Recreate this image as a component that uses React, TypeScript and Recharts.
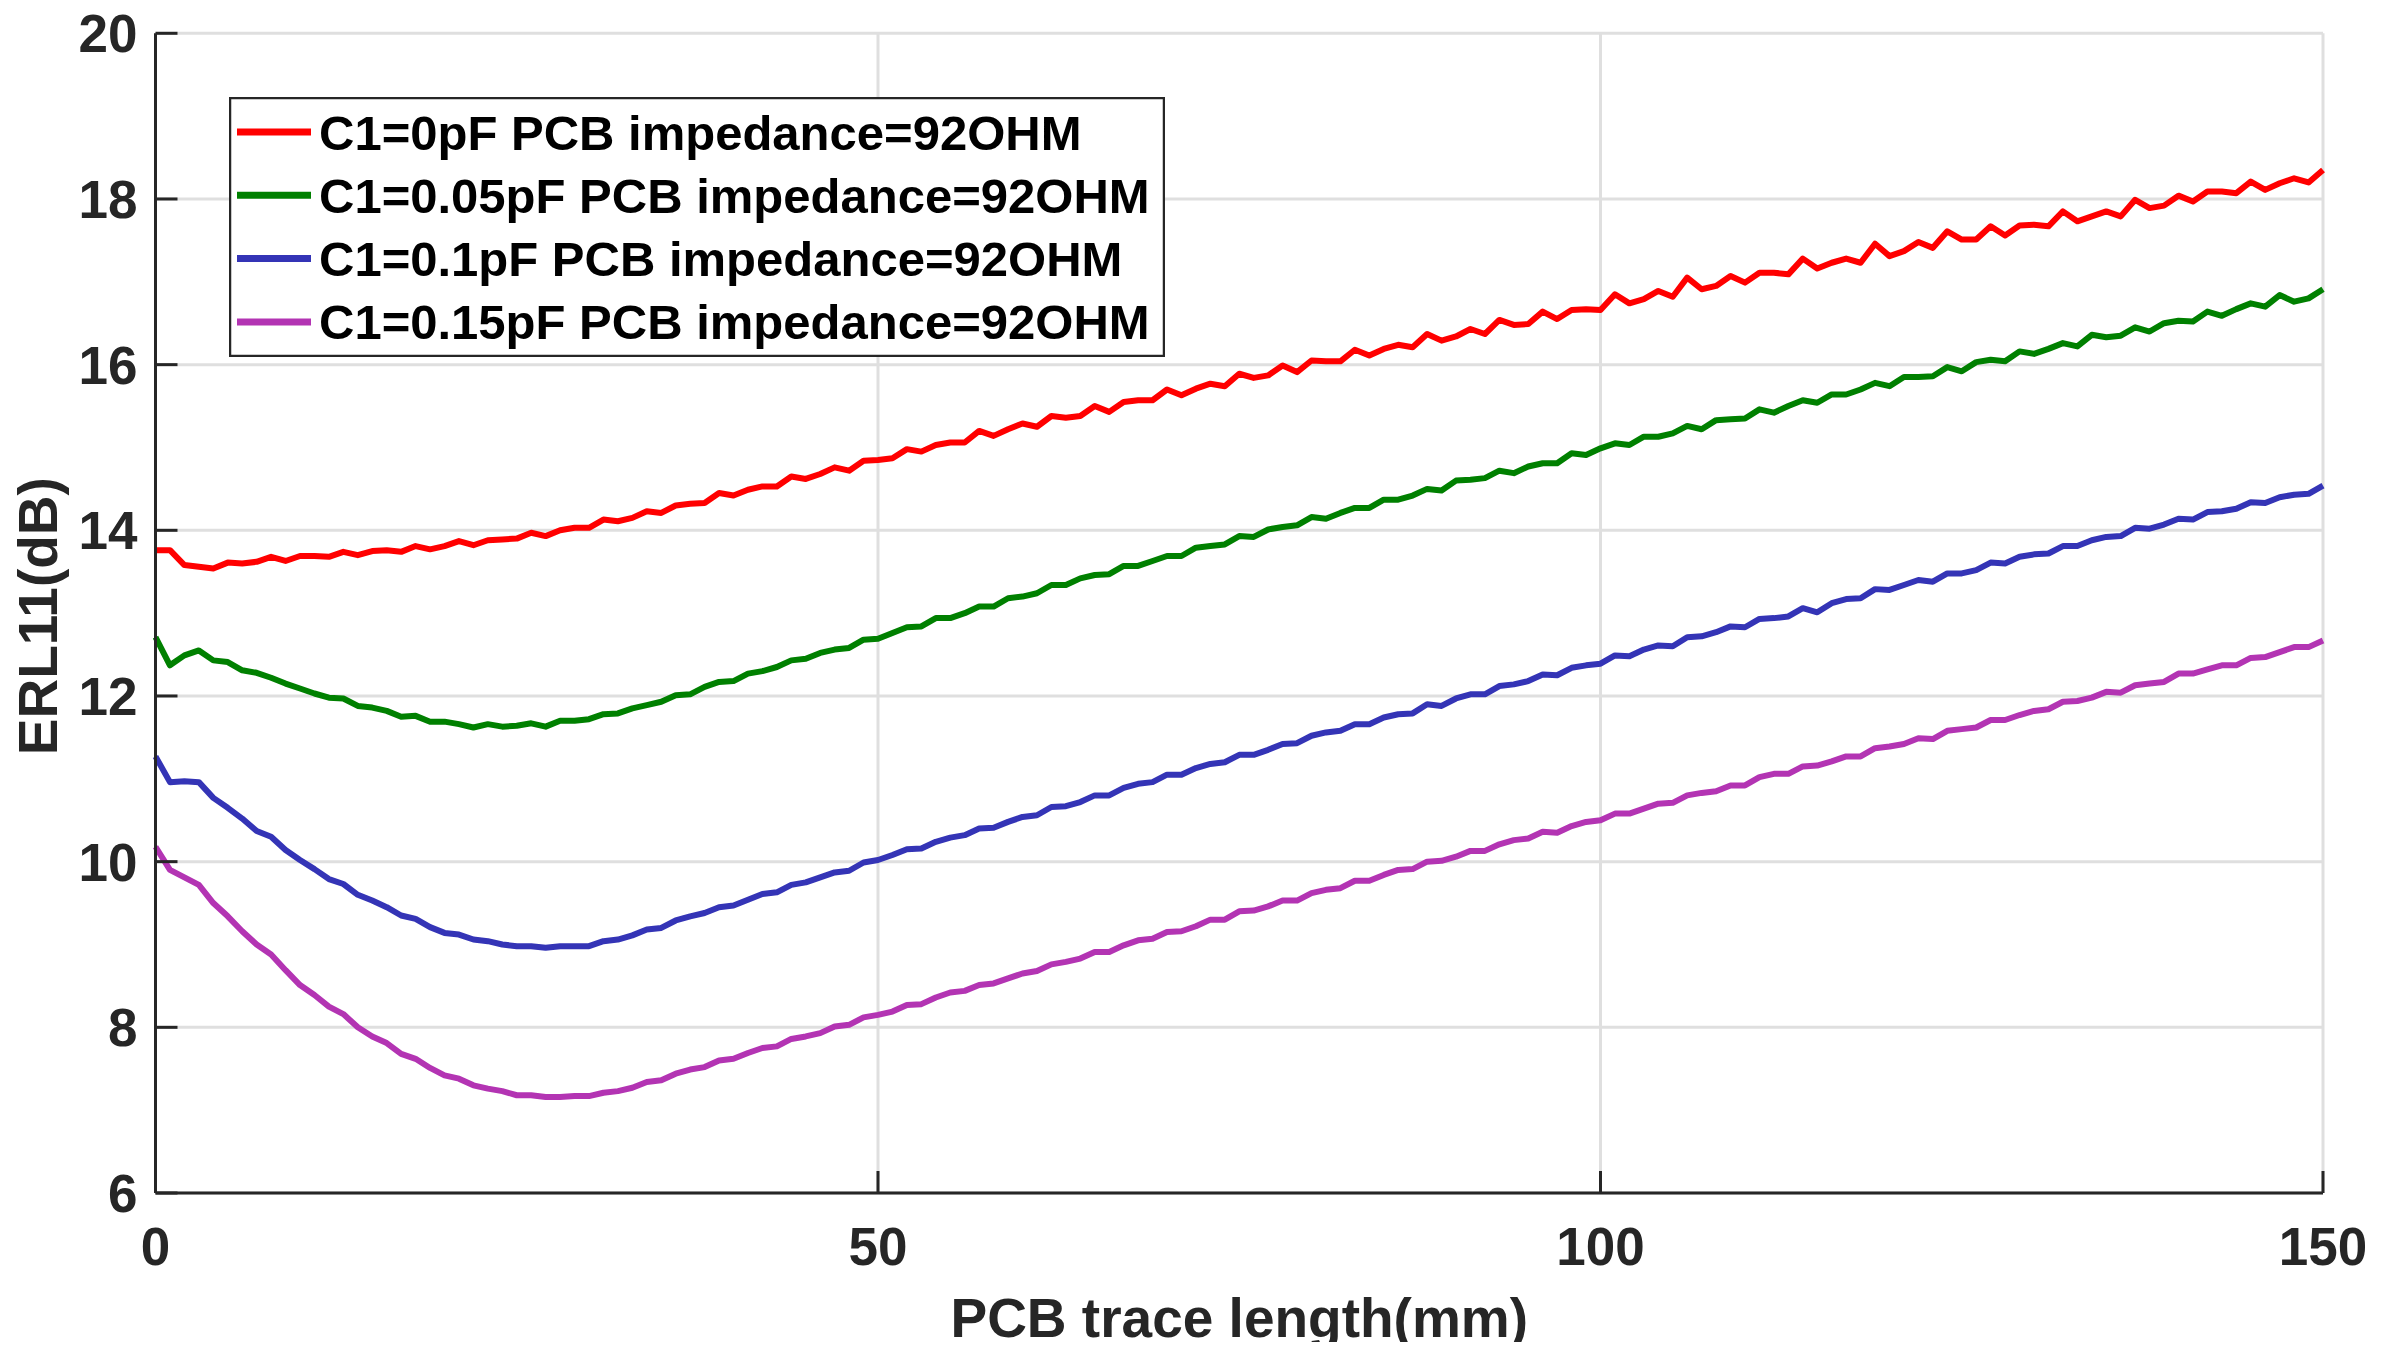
import React from 'react'
import { LineChart, Line, XAxis, YAxis, CartesianGrid, Legend } from 'recharts'

// PCB trace length in mm, sampled every 1 mm
const traceLength = Array.from({ length: 151 }, (_, i) => i)

// ERL11 (dB), one value per mm
const erlC0 = [
  13.76, 13.76, 13.58, 13.56, 13.54, 13.61, 13.6, 13.62, 13.68, 13.63, 13.69, 13.69, 13.68, 13.74, 13.7, 13.75, 13.76, 13.74, 13.81, 13.77,
  13.81, 13.87, 13.82, 13.88, 13.89, 13.9, 13.97, 13.93, 14.0, 14.03, 14.03, 14.13, 14.11, 14.15, 14.23, 14.21, 14.3, 14.32, 14.33, 14.45,
  14.42, 14.49, 14.53, 14.53, 14.65, 14.62, 14.68, 14.76, 14.72, 14.84, 14.85,
  14.87, 14.98, 14.95, 15.03, 15.06, 15.06, 15.2, 15.14, 15.22, 15.29, 15.25, 15.38, 15.36, 15.38, 15.5, 15.43, 15.55, 15.57, 15.57, 15.7,
  15.63, 15.71, 15.77, 15.74, 15.89, 15.84, 15.87, 15.99, 15.91, 16.05, 16.04, 16.04, 16.18, 16.11, 16.19, 16.24, 16.21, 16.37, 16.29, 16.34,
  16.43, 16.37, 16.54, 16.48, 16.49, 16.64, 16.55, 16.66, 16.67, 16.66,
  16.85, 16.74, 16.79, 16.89, 16.82, 17.05, 16.91, 16.95, 17.07, 16.99, 17.11, 17.11, 17.09, 17.28, 17.16, 17.23, 17.28, 17.23, 17.46, 17.31,
  17.37, 17.48, 17.41, 17.61, 17.51, 17.51, 17.67, 17.56, 17.68, 17.69, 17.67, 17.85, 17.73, 17.79, 17.85, 17.79, 17.99, 17.89, 17.92, 18.04,
  17.97, 18.09, 18.09, 18.07, 18.21, 18.11, 18.19, 18.25, 18.2, 18.35
]

const erlC005 = [
  12.71, 12.37, 12.49, 12.55, 12.43, 12.41, 12.31, 12.28, 12.22, 12.15, 12.09, 12.03, 11.98, 11.97, 11.88, 11.86, 11.82, 11.75, 11.76, 11.69,
  11.69, 11.66, 11.62, 11.66, 11.63, 11.64, 11.67, 11.63, 11.7, 11.7, 11.72, 11.78, 11.79, 11.85, 11.89, 11.93, 12.01, 12.02, 12.11, 12.17,
  12.18, 12.27, 12.3, 12.35, 12.43, 12.45, 12.52, 12.56, 12.58, 12.68, 12.69,
  12.76, 12.83, 12.84, 12.94, 12.94, 13.0, 13.08, 13.08, 13.18, 13.2, 13.24, 13.34, 13.34, 13.42, 13.46, 13.47, 13.57, 13.57, 13.63, 13.69,
  13.69, 13.79, 13.81, 13.83, 13.93, 13.92, 14.01, 14.04, 14.06, 14.16, 14.14, 14.21, 14.27, 14.27, 14.37, 14.37, 14.42, 14.5, 14.48, 14.6,
  14.61, 14.63, 14.72, 14.69, 14.77, 14.81, 14.81, 14.93, 14.91, 14.99,
  15.05, 15.03, 15.13, 15.13, 15.17, 15.26, 15.22, 15.33, 15.34, 15.35, 15.46, 15.42, 15.5, 15.57, 15.54, 15.64, 15.64, 15.7, 15.78, 15.74,
  15.85, 15.85, 15.86, 15.97, 15.92, 16.03, 16.06, 16.04, 16.16, 16.13, 16.19, 16.26, 16.22, 16.36, 16.33, 16.35, 16.45, 16.4, 16.5, 16.53,
  16.52, 16.64, 16.59, 16.67, 16.74, 16.7, 16.84, 16.76, 16.8, 16.91
]

const erlC01 = [
  11.27, 10.96, 10.97, 10.96, 10.77, 10.65, 10.52, 10.37, 10.3, 10.14, 10.02, 9.91, 9.79, 9.73, 9.6, 9.53, 9.45, 9.35, 9.31, 9.21,
  9.14, 9.12, 9.06, 9.04, 9.0, 8.98, 8.98, 8.96, 8.98, 8.98, 8.98, 9.04, 9.06, 9.11, 9.18, 9.2, 9.29, 9.34, 9.38, 9.45,
  9.47, 9.54, 9.61, 9.63, 9.72, 9.75, 9.81, 9.87, 9.89, 9.99, 10.02,
  10.08, 10.15, 10.16, 10.24, 10.29, 10.32, 10.4, 10.41, 10.48, 10.54, 10.56, 10.66, 10.67, 10.72, 10.8, 10.8, 10.89, 10.94, 10.96, 11.05,
  11.05, 11.13, 11.18, 11.2, 11.29, 11.29, 11.35, 11.42, 11.43, 11.52, 11.56, 11.58, 11.66, 11.66, 11.74, 11.78, 11.79, 11.9, 11.88, 11.97,
  12.02, 12.02, 12.12, 12.14, 12.18, 12.26, 12.25, 12.34, 12.37, 12.39,
  12.49, 12.48, 12.56, 12.61, 12.6, 12.71, 12.72, 12.77, 12.84, 12.83, 12.93, 12.94, 12.96, 13.06, 13.01, 13.12, 13.17, 13.18, 13.29, 13.28,
  13.34, 13.4, 13.38, 13.48, 13.48, 13.52, 13.61, 13.6, 13.68, 13.71, 13.72, 13.81, 13.81, 13.88, 13.92, 13.93, 14.03, 14.02, 14.07, 14.14,
  14.13, 14.22, 14.23, 14.26, 14.34, 14.33, 14.4, 14.43, 14.44, 14.54
]

const erlC015 = [
  10.18, 9.9, 9.81, 9.72, 9.5, 9.34, 9.16, 9.0, 8.88, 8.69, 8.51, 8.39, 8.25, 8.16, 8.0, 7.89, 7.81, 7.68, 7.62, 7.51,
  7.42, 7.38, 7.3, 7.26, 7.23, 7.18, 7.18, 7.16, 7.16, 7.17, 7.17, 7.21, 7.23, 7.27, 7.34, 7.36, 7.44, 7.49, 7.52, 7.6,
  7.62, 7.69, 7.75, 7.77, 7.86, 7.89, 7.93, 8.01, 8.03, 8.12, 8.15,
  8.19, 8.27, 8.28, 8.36, 8.42, 8.44, 8.51, 8.53, 8.59, 8.65, 8.68, 8.76, 8.79, 8.83, 8.91, 8.91, 8.99, 9.05, 9.07, 9.15,
  9.16, 9.22, 9.3, 9.3, 9.4, 9.41, 9.46, 9.53, 9.53, 9.62, 9.66, 9.68, 9.77, 9.77, 9.84, 9.9, 9.91, 10.0, 10.01, 10.06,
  10.13, 10.13, 10.21, 10.26, 10.28, 10.36, 10.35, 10.43, 10.48, 10.5,
  10.58, 10.58, 10.64, 10.7, 10.71, 10.8, 10.83, 10.85, 10.92, 10.92, 11.02, 11.06, 11.06, 11.15, 11.16, 11.21, 11.27, 11.27, 11.37, 11.39,
  11.42, 11.49, 11.48, 11.58, 11.6, 11.62, 11.71, 11.71, 11.77, 11.82, 11.84, 11.93, 11.94, 11.98, 12.05, 12.04, 12.13, 12.15, 12.17, 12.27,
  12.27, 12.32, 12.37, 12.37, 12.46, 12.47, 12.53, 12.59, 12.59, 12.67
]

const xTicks = [0, 50, 100, 150]
const yTicks = [6, 8, 10, 12, 14, 16, 18, 20]

const series = [
  { key: 'c0', name: 'C1=0pF PCB impedance=92OHM', color: '#ff0000', values: erlC0 },
  { key: 'c005', name: 'C1=0.05pF PCB impedance=92OHM', color: '#008000', values: erlC005 },
  { key: 'c01', name: 'C1=0.1pF PCB impedance=92OHM', color: '#3434b6', values: erlC01 },
  { key: 'c015', name: 'C1=0.15pF PCB impedance=92OHM', color: '#b334b3', values: erlC015 }
]

const data = traceLength.map((x, i) => {
  const row: Record<string, number> = { x }
  series.forEach(s => { row[s.key] = s.values[i] })
  return row
})

const FONT = '"Liberation Sans", Arial, Helvetica, sans-serif'
const AXIS = '#262626'

const XTick = (props: any) => {
  const { x, y, payload } = props
  return (
    <g>
      <line x1={x} x2={x} y1={y} y2={y - 22} stroke={AXIS} strokeWidth={3} />
      <text x={x} y={y + 72} textAnchor="middle" fontSize={53} fontWeight="bold" fill={AXIS} fontFamily={FONT}>
        {payload.value}
      </text>
    </g>
  )
}

const YTick = (props: any) => {
  const { x, y, payload } = props
  return (
    <g>
      <line x1={x} x2={x + 22} y1={y} y2={y} stroke={AXIS} strokeWidth={3} />
      <text x={x - 18} y={y + 19} textAnchor="end" fontSize={53} fontWeight="bold" fill={AXIS} fontFamily={FONT}>
        {payload.value}
      </text>
    </g>
  )
}

const XLabel = (props: any) => {
  const vb = props.viewBox
  return (
    <text x={vb.x + vb.width / 2} y={vb.y + 144} textAnchor="middle" fontSize={55} fontWeight="bold" fill={AXIS} fontFamily={FONT}>
      PCB trace length(mm)
    </text>
  )
}

const YLabel = (props: any) => {
  const vb = props.viewBox
  const cx = 49
  const cy = vb.y + vb.height / 2 + 3
  return (
    <text x={cx} y={cy} transform={`rotate(-90, ${cx}, ${cy})`} textAnchor="middle" fontSize={55} fontWeight="bold" fill={AXIS} fontFamily={FONT}>
      ERL11(dB)
    </text>
  )
}

const LegendBox = () => (
  <svg width={936} height={260} style={{ display: 'block' }}>
    <rect x={1} y={1} width={934} height={258} fill="#fff" stroke={AXIS} strokeWidth={2.5} />
    {series.map((s, i) => {
      const cy = 35 + i * 63.3
      return (
        <g key={s.key}>
          <line x1={8} x2={82} y1={cy} y2={cy} stroke={s.color} strokeWidth={7} />
          <text x={90} y={cy + 17.5} fontSize={49} fontWeight="bold" fill="#000" fontFamily={FONT}>{s.name}</text>
        </g>
      )
    })}
  </svg>
)

export default function App() {
  return (
    <div style={{ width: 2378, height: 1334, background: '#fff', fontFamily: FONT }}>
      <style>{'.recharts-surface { overflow: visible; }'}</style>
      <LineChart
        width={2378}
        height={1334}
        data={data}
        margin={{ top: 25.3, right: 63, left: 0, bottom: 0 }}
        style={{ overflow: 'visible' }}
      >
        <CartesianGrid stroke="#dfdfdf" strokeWidth={3} />
        <XAxis
          type="number"
          dataKey="x"
          domain={[0, 150]}
          ticks={xTicks}
          interval={0}
          height={149}
          tickSize={0}
          tickMargin={0}
          tickLine={false}
          axisLine={{ stroke: AXIS, strokeWidth: 3 }}
          tick={<XTick />}
          label={<XLabel />}
        />
        <YAxis
          type="number"
          domain={[6, 20]}
          ticks={yTicks}
          interval={0}
          width={147.5}
          tickSize={0}
          tickMargin={0}
          tickLine={false}
          axisLine={{ stroke: AXIS, strokeWidth: 3 }}
          tick={<YTick />}
          label={<YLabel />}
        />
        <Legend
          layout="vertical"
          align="center"
          verticalAlign="middle"
          wrapperStyle={{ left: 221, top: 89, width: 936, height: 260 }}
          content={<LegendBox />}
        />
        {series.map(s => (
          <Line
            key={s.key}
            type="linear"
            dataKey={s.key}
            name={s.name}
            stroke={s.color}
            strokeWidth={6}
            strokeLinejoin="round"
            dot={false}
            activeDot={false}
            isAnimationActive={false}
          />
        ))}
      </LineChart>
    </div>
  )
}
